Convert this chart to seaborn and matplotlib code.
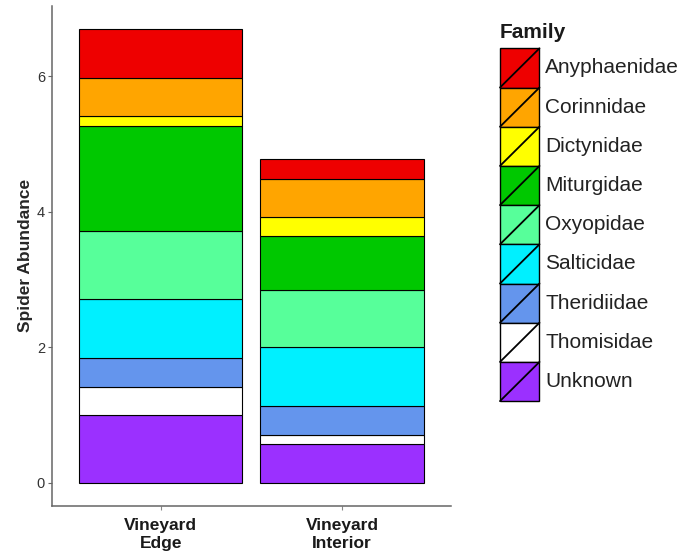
import numpy as np
import pandas as pd
import matplotlib
matplotlib.use("Agg")
import matplotlib.pyplot as plt
import seaborn as sns
from matplotlib.patches import Rectangle
from matplotlib.lines import Line2D

sites = ["Vineyard\nEdge", "Vineyard\nInterior"]
families = ["Anyphaenidae", "Corinnidae", "Dictynidae", "Miturgidae", "Oxyopidae",
            "Salticidae", "Theridiidae", "Thomisidae", "Unknown"]
edge_vals = [0.72, 0.57, 0.15, 1.55, 1.00, 0.86, 0.43, 0.42, 1.00]
interior_vals = [0.29, 0.57, 0.28, 0.79, 0.85, 0.87, 0.42, 0.14, 0.57]
colors = ["#EE0000", "#FFA500", "#FFFF00", "#00C800", "#57FF9A",
          "#00F0FF", "#6495ED", "#FFFFFF", "#9B30FF"]

df = pd.DataFrame({
    "site": [sites[0]] * len(families) + [sites[1]] * len(families),
    "family": families * 2,
    "count": edge_vals + interior_vals,
})

sns.set_style("white")
plt.rcParams["font.family"] = ["Liberation Sans", "DejaVu Sans"]

W, H = 686, 556
fig = plt.figure(figsize=(W / 100, H / 100), dpi=100)
ax = fig.add_axes([0.0758, 0.0905, 0.5812, 0.8985])

sns.histplot(data=df, x="site", weights="count", hue="family", hue_order=families,
             palette=dict(zip(families, colors)), multiple="stack", discrete=True,
             shrink=0.9, edgecolor="black", linewidth=0.8, alpha=1, ax=ax, legend=False)

ax.set_xlim(-0.6, 1.6)
ax.set_ylim(-0.335, 7.035)
ax.set_yticks([0, 2, 4, 6])
ax.set_xticks([0, 1])
ax.set_xticklabels(sites, fontsize=12.5, fontweight="bold", color="#1a1a1a", linespacing=1.2)
ax.tick_params(axis="y", labelsize=10.5, labelcolor="#333333", length=3, width=0.8,
               color="#666666", pad=2, left=True)
ax.tick_params(axis="x", length=3, width=0.8, color="#888888", pad=6, bottom=True)
ax.set_xlabel("")
ax.set_ylabel("Spider Abundance", fontsize=12.5, fontweight="bold", labelpad=3)
for s in ["top", "right"]:
    ax.spines[s].set_visible(False)
for s in ["left", "bottom"]:
    ax.spines[s].set_color("#666666")
    ax.spines[s].set_linewidth(1.1)

# legend drawn in figure pixel coordinates
def fx(x):
    return x / W

def fy(y):
    return 1 - y / H

key_left, key_w, key_top, key_h = 500, 39.5, 48.3, 39.2
fig.text(fx(key_left), fy(33), "Family", fontsize=15, fontweight="bold",
         color="#1a1a1a", ha="left", va="center")
for i, (fam, col) in enumerate(zip(families, colors)):
    top = key_top + i * key_h
    bot = top + key_h
    fig.add_artist(Rectangle((fx(key_left), fy(bot)), key_w / W, key_h / H,
                             facecolor=col, edgecolor="black", linewidth=1.0,
                             transform=fig.transFigure))
    fig.add_artist(Line2D([fx(key_left), fx(key_left + key_w)], [fy(bot), fy(top)],
                          color="black", linewidth=1.3, transform=fig.transFigure))
    fig.text(fx(545), fy((top + bot) / 2), fam, fontsize=15, color="#222222",
             ha="left", va="center")

fig.savefig("out.png", dpi=100)
